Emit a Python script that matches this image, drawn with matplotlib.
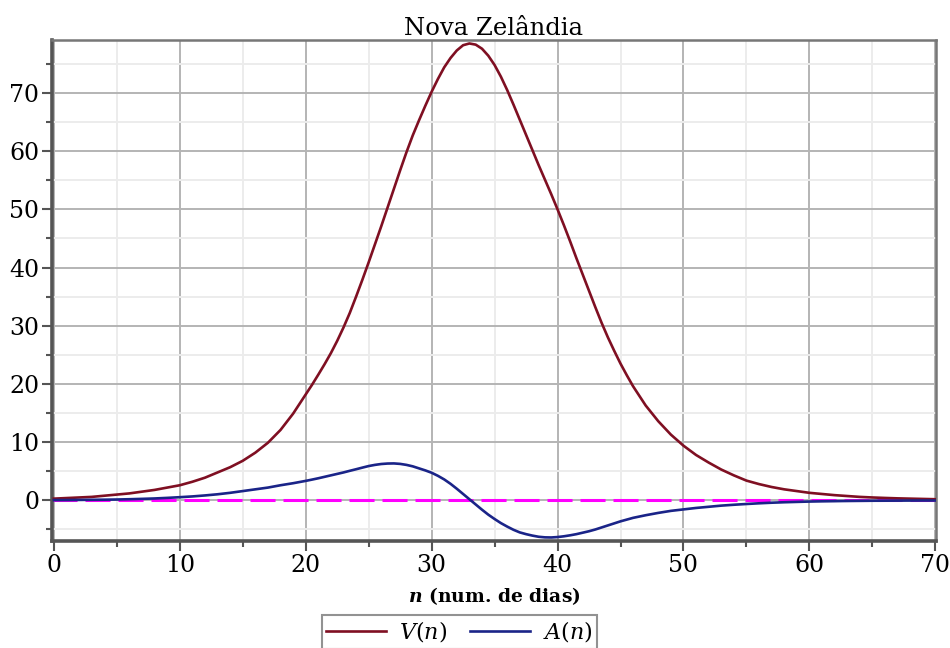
#!/usr/bin/env python
"""
Curvas V(n) e A(n) para a Nova Zelândia (estilo Maple).
"""
import matplotlib
matplotlib.use('Agg')
import matplotlib.pyplot as plt
from matplotlib.ticker import MultipleLocator


# dias: inteiros nas caudas, meio-dia na região central
DAYS = list(range(0, 20)) + [20 + 0.5 * i for i in range(52)] + list(range(46, 71))

V_VALUES = [
    # 0..19
    0.3, 0.4, 0.5, 0.6, 0.8, 1.0, 1.2, 1.5, 1.8, 2.2,
    2.6, 3.2, 3.9, 4.8, 5.7, 6.8, 8.2, 9.9, 12.1, 14.9,
    # 20..45.5 (passo 0.5)
    18.2, 19.85, 21.6, 23.4, 25.3, 27.4, 29.7, 32.2, 35.0, 37.9,
    40.9, 44.0, 47.1, 50.3, 53.5, 56.7, 59.8, 62.7, 65.3, 67.8,
    70.2, 72.4, 74.4, 76.0, 77.3, 78.2, 78.5, 78.3, 77.6, 76.4,
    74.8, 72.8, 70.5, 68.0, 65.4, 62.8, 60.2, 57.6, 55.1, 52.6,
    50.0, 47.3, 44.5, 41.6, 38.8, 36.0, 33.2, 30.5, 28.0, 25.7,
    23.5, 21.5,
    # 46..70
    19.6, 16.3, 13.6, 11.3, 9.4, 7.8, 6.5, 5.3, 4.3, 3.4,
    2.8, 2.3, 1.9, 1.6, 1.3, 1.1, 0.9, 0.75, 0.6, 0.5,
    0.42, 0.35, 0.3, 0.25, 0.2,
]

A_VALUES = [
    # 0..19
    0.05, 0.06, 0.08, 0.1, 0.12, 0.15, 0.2, 0.26, 0.33, 0.43,
    0.55, 0.68, 0.85, 1.05, 1.3, 1.6, 1.9, 2.2, 2.6, 2.95,
    # 20..45.5 (passo 0.5)
    3.35, 3.57, 3.8, 4.05, 4.3, 4.55, 4.8, 5.08, 5.35, 5.63,
    5.9, 6.1, 6.25, 6.33, 6.35, 6.27, 6.1, 5.85, 5.5, 5.15,
    4.75, 4.22, 3.6, 2.85, 2.0, 1.1, 0.2, -0.7, -1.6, -2.45,
    -3.2, -3.9, -4.5, -5.05, -5.5, -5.8, -6.05, -6.25, -6.35, -6.37,
    -6.3, -6.17, -6.0, -5.8, -5.55, -5.3, -5.0, -4.65, -4.3, -3.95,
    -3.6, -3.3,
    # 46..70
    -3.0, -2.55, -2.15, -1.8, -1.55, -1.3, -1.1, -0.9, -0.75, -0.62,
    -0.5, -0.4, -0.32, -0.26, -0.2, -0.16, -0.13, -0.1, -0.08, -0.06,
    -0.05, -0.04, -0.03, -0.02, -0.02,
]

TITLE = 'Nova Zelândia'
X_LABEL = r'$\mathbfit{n}$ (num. de dias)'
LEGEND_LABELS = [r'$V(n)$', r'$A(n)$']


def create_plot():

    plt.rcParams['font.family'] = 'DejaVu Serif'
    plt.rcParams['mathtext.fontset'] = 'dejavuserif'

    fig = plt.figure(figsize=(9.5, 6.48), dpi=100)
    ax = fig.add_axes([0.0547, 0.1651, 0.9305, 0.7732])

    # linha de referência em zero
    ax.axhline(0, color='#ff00ff', linewidth=2.2, dashes=(8.2, 2.6), zorder=2)

    ax.plot(DAYS, V_VALUES, color='#7f0f22', linewidth=1.9, zorder=3,
            label=LEGEND_LABELS[0])
    ax.plot(DAYS, A_VALUES, color='#1a2488', linewidth=1.9, zorder=3,
            label=LEGEND_LABELS[1])

    ax.set_xlim(-0.15, 70.05)
    ax.set_ylim(-6.98, 79.1)

    ax.xaxis.set_major_locator(MultipleLocator(10))
    ax.xaxis.set_minor_locator(MultipleLocator(5))
    ax.yaxis.set_major_locator(MultipleLocator(10))
    ax.yaxis.set_minor_locator(MultipleLocator(5))

    ax.grid(which='major', color='#b4b4b4', linewidth=1.4, zorder=0)
    ax.grid(which='minor', color='#ececec', linewidth=1.4, zorder=0)
    ax.set_axisbelow(True)

    ax.tick_params(which='major', length=7, width=1.5, color='#555555',
                   labelsize=17, pad=2)
    ax.tick_params(which='minor', length=4, width=1.5, color='#555555')

    for side in ['left', 'bottom']:
        ax.spines[side].set_linewidth(2.6)
        ax.spines[side].set_color('#555555')
    for side in ['top', 'right']:
        ax.spines[side].set_linewidth(1.8)
        ax.spines[side].set_color('#777777')

    ax.set_title(TITLE, fontsize=17.5, pad=3)
    ax.set_xlabel(X_LABEL, fontsize=13.5, fontweight='bold', labelpad=6)

    fig.legend(loc='upper center', bbox_to_anchor=(0.4837, 1 - 615 / 648),
               ncol=2, fontsize=16, frameon=True, fancybox=False,
               edgecolor='#777777', handlelength=2.7, columnspacing=1.0,
               borderpad=0.2, handletextpad=0.6, borderaxespad=0)
    fig.legends[0].get_frame().set_linewidth(1.5)

    fig.savefig('out.png', dpi=100)


if __name__ == '__main__':
    create_plot()
